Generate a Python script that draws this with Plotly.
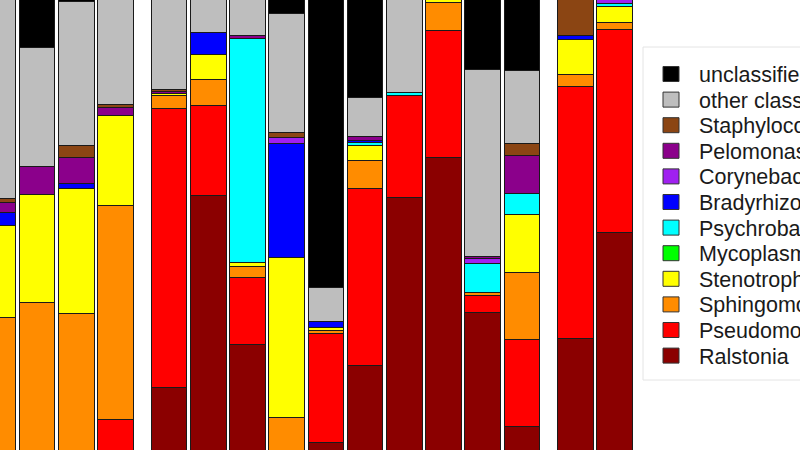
import plotly.graph_objects as go

# ---- data (percent of reads per sample), bottom -> top of stack ----
samples = [f"S{i}" for i in range(1, 17)]
group_sizes = [4, 10, 2]

genera = ["Ralstonia", "Pseudomonas", "Sphingomonas", "Stenotrophomonas",
          "Mycoplasma", "Psychrobacter", "Bradyrhizobium", "Corynebacterium",
          "Pelomonas", "Staphylococcus", "other classified", "unclassified"]

ralstonia        = [0, 0, 0, 0, 22.4, 60.8, 31.0, 0, 11.4, 26.8, 60.4, 68.4, 37.4, 14.6, 32.2, 53.4]
pseudomonas      = [0, 0, 0, 16.0, 55.8, 18.0, 13.4, 0, 21.8, 35.4, 20.4, 25.4, 3.4, 17.4, 50.4, 40.6]
sphingomonas     = [36.4, 39.4, 37.2, 42.8, 2.6, 5.2, 2.2, 16.4, 0.6, 5.6, 0, 5.6, 0.6, 13.4, 2.4, 1.4]
stenotrophomonas = [18.4, 21.6, 25.0, 18.0, 0.4, 5.0, 0.8, 32.0, 0.6, 3.0, 0, 0.6, 0, 11.6, 7.0, 3.2]
mycoplasma       = [0, 0, 0, 0, 0, 0, 0, 0, 0, 0, 0, 0, 0, 0, 0, 0]
psychrobacter    = [0, 0, 0, 0, 0, 0, 44.8, 0, 0, 0.6, 0.6, 0, 5.8, 4.2, 0, 0.6]
bradyrhizobium   = [2.6, 0, 1.0, 0, 0, 4.4, 0, 22.8, 1.2, 0.4, 0, 0, 0, 0, 0.8, 0]
corynebacterium  = [0, 0, 0, 0, 0, 0, 0, 1.2, 0, 0, 0, 0, 1.0, 0, 0, 0.8]
pelomonas        = [2.0, 5.6, 5.2, 1.6, 0.4, 0, 0.6, 0, 0, 0.8, 0, 0, 0.4, 7.6, 0, 0]
staphylococcus   = [0.8, 0, 2.4, 0.6, 0.4, 0, 0, 1.0, 0, 0, 0, 0, 0, 2.4, 7.2, 0]
other_classified = [39.8, 23.8, 28.8, 21.0, 18.0, 6.6, 7.2, 23.8, 6.8, 7.8, 18.6, 0, 37.4, 14.6, 0, 0]
unclassified     = [0, 9.6, 0.4, 0, 0, 0, 0, 2.8, 57.6, 19.6, 0, 0, 14.0, 14.2, 0, 0]

series = [ralstonia, pseudomonas, sphingomonas, stenotrophomonas, mycoplasma,
          psychrobacter, bradyrhizobium, corynebacterium, pelomonas,
          staphylococcus, other_classified, unclassified]

colors = ["#8B0000", "#FF0000", "#FF8C00", "#FFFF00", "#00FF00", "#00FFFF",
          "#0000FF", "#A020F0", "#8B008B", "#8B4513", "#BEBEBE", "#000000"]

# ---- layout helpers ----
W, H = 800, 450
GROUP_GAP = 0.37
positions = []
idx = 0
for g, n in enumerate(group_sizes):
    for _ in range(n):
        positions.append(idx + GROUP_GAP * g)
        idx += 1

PX_PER_UNIT = 39.2
PX_OFFSET = -1.7
x_range = [(0 + -PX_OFFSET) / PX_PER_UNIT, (W - PX_OFFSET) / PX_PER_UNIT]
y_range = [10, 100]

fig = go.Figure()
for name, vals, col in zip(genera, series, colors):
    fig.add_trace(go.Bar(
        x=positions,
        y=[v if v > 0 else None for v in vals],
        name=name,
        width=0.91,
        marker=dict(color=col, line=dict(color="#1a1a1a", width=1)),
        customdata=samples,
        hovertemplate="%{customdata}<br>" + name + ": %{y}%<extra></extra>",
        showlegend=False,
    ))

# ---- R-style legend drawn manually ----
def px(xp):
    return xp / W

def py(yp):
    return 1 - yp / H

shapes = [dict(type="rect", xref="paper", yref="paper",
               x0=px(643), x1=px(812), y0=py(380), y1=py(47),
               line=dict(color="#e4e4e4", width=1), fillcolor="white", layer="above")]
annotations = []
legend_order = list(zip(genera, colors))[::-1]
for k, (name, col) in enumerate(legend_order):
    yc = 74 + 25.6 * k
    shapes.append(dict(type="rect", xref="paper", yref="paper",
                       x0=px(663), x1=px(679), y0=py(yc + 7.5), y1=py(yc - 7.5),
                       line=dict(color="#333333", width=1), fillcolor=col, layer="above"))
    annotations.append(dict(xref="paper", yref="paper", x=px(697), y=py(yc + 1),
                            xanchor="left", yanchor="middle", text=name, showarrow=False,
                            font=dict(family="Liberation Sans, Arial, sans-serif",
                                      size=21.5, color="#1a1a1a")))

fig.update_layout(
    width=W, height=H,
    margin=dict(l=0, r=0, t=0, b=0),
    barmode="stack",
    bargap=0,
    plot_bgcolor="white",
    paper_bgcolor="white",
    xaxis=dict(range=x_range, visible=False, fixedrange=True),
    yaxis=dict(range=y_range, visible=False, fixedrange=True),
    shapes=shapes,
    annotations=annotations,
    showlegend=False,
)

fig.write_html("out.html")
